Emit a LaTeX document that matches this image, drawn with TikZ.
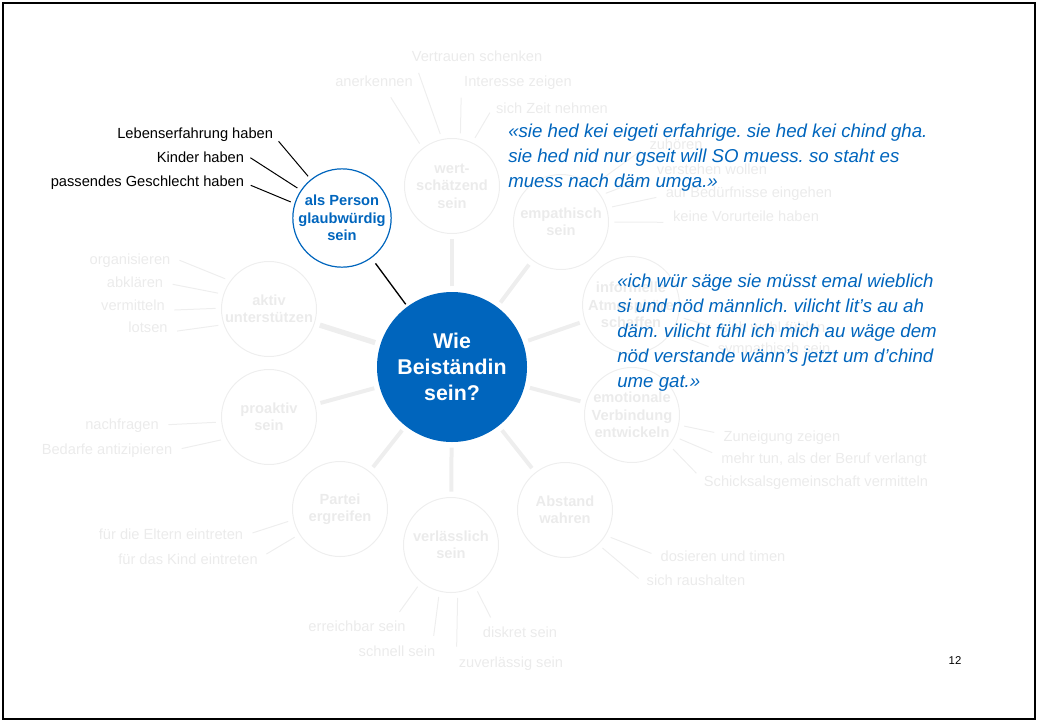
\documentclass[tikz,border=0pt]{standalone}
\usepackage{fontspec}
\setmainfont{Liberation Sans}
\frenchspacing
\definecolor{myblue}{RGB}{0,101,189}
\definecolor{mygray}{RGB}{235,235,235}
\definecolor{mylightgray}{RGB}{238,238,238}
\newcommand*{\mysatstyle}{\bfseries\fontsize{11}{13}\selectfont}
\newcommand*{\myleafstyle}{\fontsize{11}{13}\selectfont}
\newcommand*{\myquotestyle}{\itshape\fontsize{14}{18.75}\selectfont}
\newcommand{\twig}[4]{%
   % satellite, angle at satellite, label, angle at label
   \draw[twig] (#1.#2) -- (#3.#4);
}
\tikzset{
   hub/.style = {
      circle, fill = myblue, minimum size = 112.5pt, inner sep = 0pt,
      font = \bfseries\fontsize{16}{19.5}\selectfont,
      text = white, align = center
   },
   satellite/.style = {
      circle, draw = mylightgray, line width = 0.75pt,
      minimum size = 71.25pt, inner sep = 0pt,
      font = \mysatstyle, text = mygray, align = center
   },
   person/.style = {
      satellite, draw = myblue, text = myblue, line width = 0.9pt,
      minimum size = 70.5pt
   },
   leaf/.style = {
      font = \myleafstyle, text = mygray, inner sep = 2pt,
      text height = 8pt, text depth = 2pt
   },
   reason/.style = {leaf, text = black},
   spoke/.style = {
      draw = mylightgray, line width = 3pt,
      shorten < = 4pt, shorten > = 4pt
   },
   personspoke/.style = {
      draw = black, line width = 1pt,
      shorten < = 2pt, shorten > = 5pt
   },
   twig/.style = {
      draw = mylightgray, line width = 0.75pt,
      shorten < = 4pt, shorten > = 5pt
   },
   blacktwig/.style = {
      draw = black, line width = 0.75pt,
      shorten < = 3pt, shorten > = 3pt
   },
   quote/.style = {
      font = \myquotestyle, text = myblue, align = left,
      inner sep = 0pt, anchor = base west
   }
}

\begin{document}
\begin{tikzpicture}[x = 0.75pt, y = -0.75pt]
   \useasboundingbox (0,0) rectangle (1038,722);
   \draw[line width = 1.2pt] (3,3) rectangle (1035,719);

   % hub and satellites
   \node[hub] (mid) at (452,367) {Wie\\Beiständin\\sein?};
   \node[satellite] (wert)     at (452,186) {wert-\\schätzend\\sein};
   \node[satellite] (empath)   at (561,222) {empathisch\\sein};
   \node[satellite] (atmo)     at (631,305) {informelle\\Atmosphäre\\schaffen};
   \node[satellite] (verbind)  at (632,415) {emotionale\\Verbindung\\entwickeln};
   \node[satellite] (abstand)  at (565,510) {Abstand\\wahren};
   \node[satellite] (verlass)  at (451,545) {verlässlich\\sein};
   \node[satellite] (partei)   at (340,509) {Partei\\ergreifen};
   \node[satellite] (proaktiv) at (269,417) {proaktiv\\sein};
   \node[satellite] (aktiv)    at (269,309) {aktiv\\unterstützen};
   \node[person]    (person)   at (342,218) {als Person\\glaubwürdig\\sein};

   \foreach \s in {wert,empath,atmo,verbind,abstand,verlass,partei,proaktiv}
      \draw[spoke] (mid) -- (\s);
   \draw[spoke, line width = 4pt] (mid) -- (aktiv);
   \draw[personspoke] (mid) -- (person);

   % labels round the satellites
   \node[leaf] (vertr)     at (477,57)  {Vertrauen schenken};
   \node[leaf] (anerk)     at (374,82)  {anerkennen};
   \node[leaf] (inter)     at (518,82)  {Interesse zeigen};
   \node[leaf] (zeit)      at (552,109) {sich Zeit nehmen};
   \node[leaf] (zuhoer)    at (676,145) {zuhören};
   \node[leaf] (verst)     at (712,170) {verstehen wollen};
   \node[leaf] (beduerf)   at (749,193) {auf Bedürfnisse eingehen};
   \node[leaf] (vorurt)    at (746,217) {keine Vorurteile haben};
   \node[leaf] (wohl)      at (773,328) {sich wohl fühlen};
   \node[leaf] (sympath)   at (774,349) {sympathisch sein};
   \node[leaf] (zuneig)    at (782,437) {Zuneigung zeigen};
   \node[leaf] (mehrtun)   at (824,459) {mehr tun, als der Beruf verlangt};
   \node[leaf] (schicksal) at (816,482) {Schicksalsgemeinschaft vermitteln};
   \node[leaf] (dosier)    at (723,557) {dosieren und timen};
   \node[leaf] (raus)      at (696,581) {sich raushalten};
   \node[leaf] (erreich)   at (357,627) {erreichbar sein};
   \node[leaf] (schnell)   at (397,652) {schnell sein};
   \node[leaf] (diskret)   at (520,633) {diskret sein};
   \node[leaf] (zuverl)    at (511,663) {zuverlässig sein};
   \node[leaf] (eltern)    at (171,535) {für die Eltern eintreten};
   \node[leaf] (kind)      at (188,560) {für das Kind eintreten};
   \node[leaf] (nachfr)    at (122,425) {nachfragen};
   \node[leaf] (bedarf)    at (107,450) {Bedarfe antizipieren};
   \node[leaf] (organ)     at (130,260) {organisieren};
   \node[leaf] (abklaer)   at (135,283) {abklären};
   \node[leaf] (vermitt)   at (133,306) {vermitteln};
   \node[leaf] (lotsen)    at (148,328) {lotsen};

   \twig{wert}{128}{anerk}{-36}
   \twig{wert}{102}{vertr}{-171}
   \twig{wert}{80}{inter}{-171}
   \twig{wert}{65}{zeit}{178}
   \twig{empath}{49}{zuhoer}{-177}
   \twig{empath}{34}{verst}{-175}
   \twig{empath}{17}{beduerf}{-178}
   \twig{empath}{0}{vorurt}{-176}
   \twig{atmo}{-14}{wohl}{180}
   \twig{atmo}{-34}{sympath}{180}
   \twig{verbind}{-12}{zuneig}{177}
   \twig{verbind}{-27}{mehrtun}{178}
   \twig{verbind}{-39}{schicksal}{178}
   \twig{abstand}{-32}{dosier}{179}
   \twig{abstand}{-46}{raus}{-178}
   \twig{verlass}{231}{erreich}{14}
   \twig{verlass}{256}{schnell}{15}
   \twig{verlass}{278}{zuverl}{170}
   \twig{verlass}{300}{diskret}{160}
   \twig{partei}{193}{eltern}{0}
   \twig{partei}{212}{kind}{2}
   \twig{proaktiv}{186}{nachfr}{0}
   \twig{proaktiv}{207}{bedarf}{0}
   \twig{aktiv}{144}{organ}{3}
   \twig{aktiv}{162}{abklaer}{0}
   \twig{aktiv}{179}{vermitt}{-7}
   \twig{aktiv}{199}{lotsen}{-10}

   % reasons for "glaubwuerdig"
   \node[reason, anchor = base east] (leben)   at (276,138) {Lebenserfahrung haben};
   \node[reason, anchor = base east] (kinder)  at (247,162) {Kinder haben};
   \node[reason, anchor = base east] (passend) at (247,186) {passendes Geschlecht haben};
   \draw[blacktwig] (person.129) -- (leben.-3);
   \draw[blacktwig] (person.146) -- (kinder.3);
   \draw[blacktwig] (person.163) -- (passend.-1);

   % quotes (base = last line)
   \node[quote] (quoteone) at (508,187) {%
      «sie hed kei eigeti erfahrige. sie hed kei chind gha.\\
      sie hed nid nur gseit will SO muess. so staht es\\
      muess nach däm umga.»};
   \node[quote] (quotetwo) at (617,387) {%
      «ich wür säge sie müsst emal wieblich\\
      si und nöd männlich. vilicht lit’s au ah\\
      däm. vilicht fühl ich mich au wäge dem\\
      nöd verstande wänn’s jetzt um d’chind\\
      ume gat.»};

   \node[font = \fontsize{8.5}{10}\selectfont] (pagenum) at (955,661) {12};
\end{tikzpicture}
\end{document}
